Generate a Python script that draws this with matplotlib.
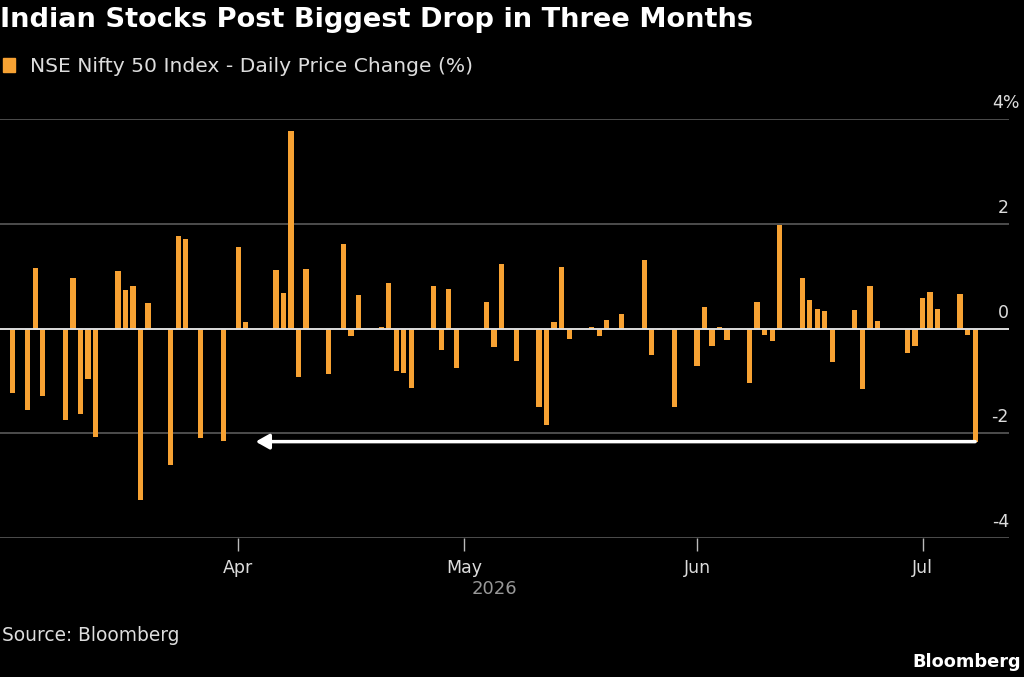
#!/usr/bin/env python3
import numpy as np
import pandas as pd
import matplotlib
matplotlib.use("Agg")
import matplotlib.pyplot as plt
import matplotlib.dates as mdates
import matplotlib.transforms as mtransforms

###########################################################################
# data (daily % change, NSE Nifty 50)
dates = ["2026-03-02", "2026-03-04", "2026-03-05", "2026-03-06",
         "2026-03-09", "2026-03-10", "2026-03-11", "2026-03-12", "2026-03-13",
         "2026-03-16", "2026-03-17", "2026-03-18", "2026-03-19", "2026-03-20",
         "2026-03-23", "2026-03-24", "2026-03-25", "2026-03-27",
         "2026-03-30", "2026-04-01", "2026-04-02",
         "2026-04-06", "2026-04-07", "2026-04-08", "2026-04-09", "2026-04-10",
         "2026-04-13", "2026-04-15", "2026-04-16", "2026-04-17",
         "2026-04-20", "2026-04-21", "2026-04-22", "2026-04-23", "2026-04-24",
         "2026-04-27", "2026-04-28", "2026-04-29", "2026-04-30",
         "2026-05-04", "2026-05-05", "2026-05-06", "2026-05-08",
         "2026-05-11", "2026-05-12", "2026-05-13", "2026-05-14", "2026-05-15",
         "2026-05-18", "2026-05-19", "2026-05-20", "2026-05-22",
         "2026-05-25", "2026-05-26", "2026-05-27", "2026-05-29",
         "2026-06-01", "2026-06-02", "2026-06-03", "2026-06-04", "2026-06-05",
         "2026-06-08", "2026-06-09", "2026-06-10", "2026-06-11", "2026-06-12",
         "2026-06-15", "2026-06-16", "2026-06-17", "2026-06-18", "2026-06-19",
         "2026-06-22", "2026-06-23", "2026-06-24", "2026-06-25",
         "2026-06-29", "2026-06-30", "2026-07-01", "2026-07-02", "2026-07-03",
         "2026-07-06", "2026-07-07", "2026-07-08"]

changes = [-1.24, -1.55, 1.15, -1.28,
           -1.74, 0.96, -1.63, -0.96, -2.07,
           1.10, 0.73, 0.82, -3.27, 0.48,
           -2.61, 1.76, 1.71, -2.09,
           -2.14, 1.55, 0.13,
           1.11, 0.67, 3.77, -0.93, 1.14,
           -0.87, 1.62, -0.15, 0.64,
           0.03, 0.86, -0.82, -0.85, -1.14,
           0.81, -0.41, 0.75, -0.75,
           0.50, -0.36, 1.23, -0.62,
           -1.49, -1.84, 0.13, 1.17, -0.20,
           0.02, -0.14, 0.17, 0.27,
           1.31, -0.50, -0.02, -1.50,
           -0.71, 0.42, -0.33, 0.03, -0.22,
           -1.05, 0.50, -0.12, -0.23, 1.98,
           0.96, 0.55, 0.38, 0.33, -0.64,
           0.36, -1.16, 0.82, 0.14,
           -0.46, -0.34, 0.58, 0.70, 0.38,
           0.65, -0.13, -2.16]

month_ticks = ["2026-04-01", "2026-05-01", "2026-06-01", "2026-07-01"]
month_labels = ["Apr", "May", "Jun", "Jul"]
y_ticks = [-4, -2, 0, 2, 4]

title = "Indian Stocks Post Biggest Drop in Three Months"
legend_label = "NSE Nifty 50 Index - Daily Price Change (%)"

##########################################################################
bar_color = "#f7a233"
grid_color = "#5a5a5a"
W, H = 1024, 677

x = mdates.date2num(pd.to_datetime(dates))
xt = mdates.date2num(pd.to_datetime(month_ticks))
apr1 = xt[0]

fig = plt.figure(figsize=(W / 100, H / 100), dpi=100, facecolor="black")
ax = fig.add_axes([0.0, 1 - 538 / H, 1009 / W, (538 - 119) / H])
ax.set_facecolor("black")

for v in y_ticks:
	if v != 0:
		ax.axhline(v, color=grid_color, lw=1.2, zorder=0)

ax.bar(x, changes, width=0.7, color=bar_color, zorder=2)
ax.axhline(0, color="#dddddd", lw=1.4, zorder=3)

ax.set_xlim(apr1 - 31.7, apr1 + 102.5)
ax.set_ylim(-4, 4)
for s in ax.spines.values():
	s.set_visible(False)
ax.set_yticks([])
ax.set_xticks(xt)
ax.set_xticklabels(month_labels)
ax.tick_params(axis="x", colors="#bbbbbb", length=9, width=1, pad=6,
               labelsize=12.5, labelcolor="#dddddd")

# y labels sit above the gridlines on the right
trans = mtransforms.blended_transform_factory(ax.transAxes, ax.transData)
trans = mtransforms.offset_copy(trans, fig=fig, x=0, y=11, units="dots")
trans_top = mtransforms.offset_copy(trans, fig=fig, x=11, y=0, units="dots")
for v in y_ticks:
	if v == y_ticks[-1]:
		ax.text(1.0, v, f"{v}%", transform=trans_top, ha="right",
		        va="baseline", color="#dddddd", fontsize=12.5, clip_on=False)
	else:
		ax.text(1.0, v, str(v), transform=trans, ha="right", va="baseline",
		        color="#dddddd", fontsize=12.5, clip_on=False)

# arrow from the last drop back to the previous comparable drop
ax.annotate("", xy=(apr1 + 2.3, changes[-1]), xytext=(x[-1], changes[-1]),
            arrowprops=dict(arrowstyle="-|>,head_length=0.8,head_width=0.45",
                            color="white", lw=2.5, shrinkA=0, shrinkB=0),
            zorder=4)

##########################################################################
fig.text(0, 1 - 27 / H, title, color="white", fontsize=19.6, fontweight="bold",
         ha="left", va="baseline")
fig.patches.append(plt.Rectangle((3 / W, 1 - 72 / H), 12 / W, 14 / H,
                                 transform=fig.transFigure, color=bar_color))
fig.text(30 / W, 1 - 72 / H, legend_label, color="#dddddd", fontsize=14.6,
         ha="left", va="baseline")
fig.text(494 / W, 1 - 594 / H, "2026", color="#999999", fontsize=13,
         ha="center", va="baseline")
fig.text(2 / W, 1 - 641 / H, "Source: Bloomberg", color="#dddddd",
         fontsize=13.4, ha="left", va="baseline")
fig.text(1021 / W, 1 - 667 / H, "Bloomberg", color="white", fontsize=12.8,
         fontweight="bold", ha="right", va="baseline")

fig.savefig("out.png", dpi=100, facecolor="black")
plt.close()
